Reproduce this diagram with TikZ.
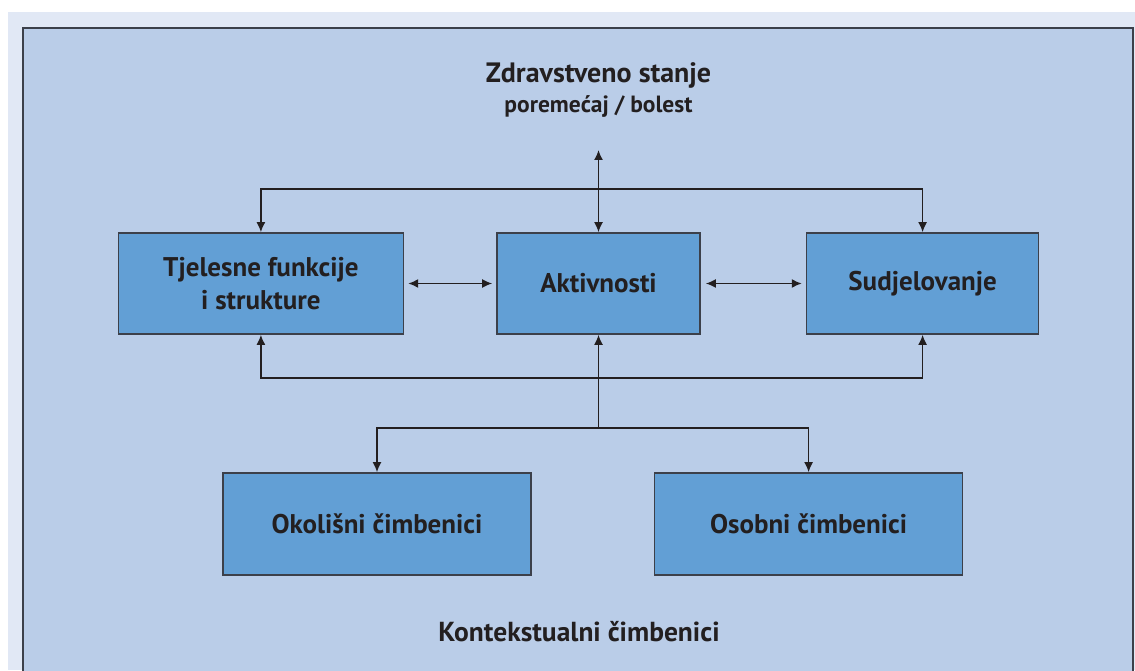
\documentclass[tikz,border=0pt]{standalone}
\usepackage{fontspec}
\setmainfont{PT Sans}
\usepackage{tikz}
\usetikzlibrary{arrows.meta, positioning}

\definecolor{pagebg}{HTML}{E1E8F5}
\definecolor{panelbg}{HTML}{BACDE8}
\definecolor{boxfill}{HTML}{629FD5}
\definecolor{edgecol}{HTML}{3C404A}
\definecolor{inkcol}{HTML}{231F20}

\begin{document}
\begin{tikzpicture}[
      x=1pt, y=1pt,
      box/.style={draw=edgecol, line width=1.6pt, fill=boxfill, align=center,
        minimum height=101pt, font=\fontsize{27}{33}\selectfont\bfseries, text=inkcol},
      lbl/.style={align=center, text=inkcol, font=\bfseries},
      arr/.style={-{Latex[length=10pt, width=9pt]}, line width=1.6pt, draw=inkcol},
      arrs/.style={{Latex[length=10pt, width=9pt]}-{Latex[length=10pt, width=9pt]}, line width=1.6pt, draw=inkcol}
    ]
    \useasboundingbox (0,0) rectangle (1135,670);
    % background and panel
    \fill[pagebg] (8,0) rectangle (1135,658);
    \fill[panelbg] (23,-5) rectangle (1133,642);
    \draw[edgecol, line width=2pt] (23,-5) -- (23,642) -- (1133,642) -- (1133,-5);

    \node[box, minimum width=203pt] at (598.5,386.5) (akt) {Aktivnosti};
    \node[box, minimum width=285pt, left=92pt of akt] (tjel) {Tjelesne funkcije\\i strukture};
    \node[box, minimum width=232pt, right=105pt of akt] (sud) {Sudjelovanje};
    \node[box, minimum width=308pt, minimum height=102pt] at (377,146) (okol) {Okolišni čimbenici};
    \node[box, minimum width=308pt, minimum height=102pt, right=122pt of okol] (osob) {Osobni čimbenici};

    \node[lbl, font=\fontsize{28}{32}\selectfont\bfseries] at (598.5,595) (zdr) {Zdravstveno stanje};
    \node[lbl, font=\fontsize{23.5}{27}\selectfont\bfseries] at (598.5,564) (bol) {poremećaj / bolest};
    \node[lbl, font=\fontsize{27.5}{31}\selectfont\bfseries] at (579,38) (kont) {Kontekstualni čimbenici};

    \coordinate (gore) at (598.5,520);
    \coordinate (grana) at (598.5,241);

    \draw[arrs] (gore) -- (akt.north);
    \draw[arrs] (tjel.north) -- ++(0,43) -| (sud.north);
    \draw[arrs] (tjel.south) -- ++(0,-43) -| (sud.south);
    \draw[arrs, shorten <=4pt, shorten >=4pt] (tjel.east) -- (akt.west);
    \draw[arrs, shorten <=5pt, shorten >=4pt] (akt.east) -- (sud.west);
    \draw[arr] (grana) -- (akt.south);
    \draw[arrs] (okol.north) -- ++(0,44) -| (osob.north);
  \end{tikzpicture}
\end{document}
